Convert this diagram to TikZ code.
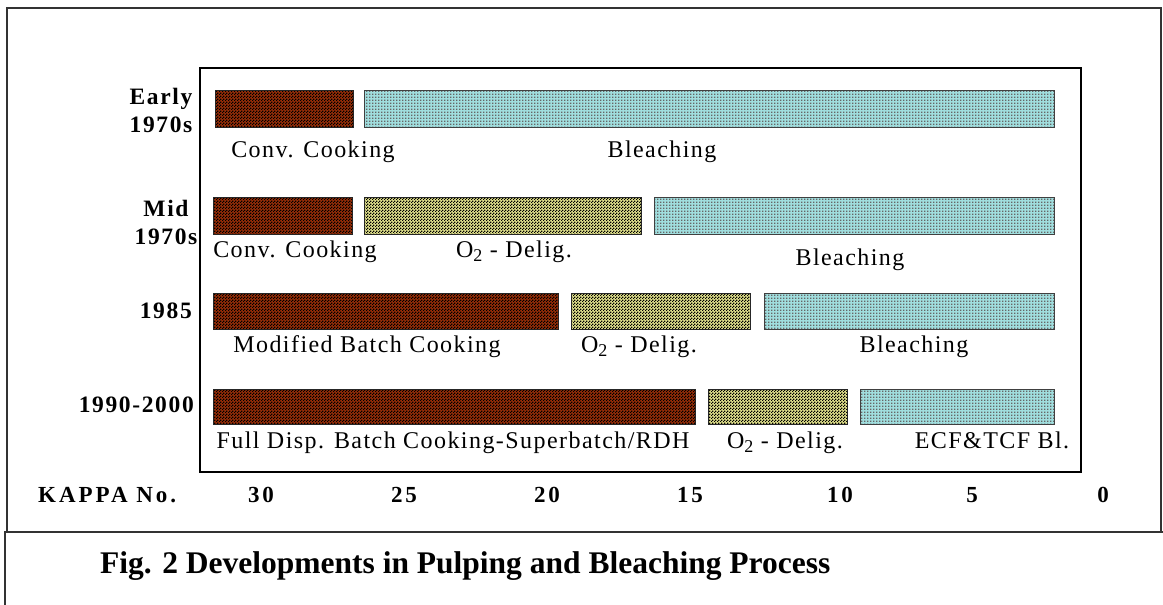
\documentclass[tikz,border=0pt]{standalone}
\usepackage{fontspec}
\setmainfont{Liberation Serif}
\newfontfamily\spacedfont{Liberation Serif}[LetterSpace=6]
\newfontfamily\wideboldfont{Liberation Serif}[LetterSpace=7]
\newfontfamily\kappafont{Liberation Serif}[LetterSpace=13]
\usetikzlibrary{patterns}

%% dither fills like the old office charts
\pgfdeclarepatternformonly{checker}{\pgfpointorigin}{\pgfqpoint{3pt}{3pt}}{\pgfqpoint{3pt}{3pt}}{%
  \pgfpathrectangle{\pgfpointorigin}{\pgfqpoint{1.5pt}{1.5pt}}%
  \pgfpathrectangle{\pgfqpoint{1.5pt}{1.5pt}}{\pgfqpoint{1.5pt}{1.5pt}}%
  \pgfusepath{fill}}
\pgfdeclarepatternformonly{sparsedots}{\pgfpointorigin}{\pgfqpoint{3pt}{3pt}}{\pgfqpoint{3pt}{3pt}}{%
  \pgfpathrectangle{\pgfpointorigin}{\pgfqpoint{1.8pt}{1.8pt}}%
  \pgfusepath{fill}}

\definecolor{cookbrown}{RGB}{150,45,8}
\definecolor{deligyellow}{RGB}{225,225,140}
\definecolor{bleachcyan}{RGB}{160,222,222}

\newcommand{\otwo}{O\raisebox{-4pt}{\fontsize{18}{18}\selectfont 2}}

\tikzset{
  cookbar/.style={draw=black!85, line width=1pt, preaction={fill=cookbrown}, pattern=checker, pattern color=black},
  deligbar/.style={draw=black!85, line width=1pt, preaction={fill=deligyellow}, pattern=checker, pattern color=black},
  bleachbar/.style={draw=black!75, line width=1pt, preaction={fill=bleachcyan}, pattern=sparsedots, pattern color=black!60},
  barlabel/.style={anchor=base, inner sep=0pt, font=\spacedfont\fontsize{24}{28}\selectfont},
  rowlabel/.style={inner sep=0pt, align=center, font=\wideboldfont\bfseries\fontsize{23.5}{28}\selectfont},
  kappalabel/.style={anchor=base, inner sep=0pt, font=\kappafont\bfseries\fontsize{23}{28}\selectfont}
}

\begin{document}
\begin{tikzpicture}[x=1pt,y=-1pt]
    \useasboundingbox (0,0) rectangle (1163,605);
    %% frames
    \draw[line width=1.5pt,black!80] (7,8) rectangle (1161,532);
    \draw[line width=1.5pt,black!80] (5,605) -- (5,532) -- (1163,532);
    \draw[line width=1.5pt] (200,68) rectangle (1081,472);
    %% Early 1970s
    \node[rowlabel] (early) at (161,110.5) {Early\\1970s};
    \draw[cookbar] (215,90) rectangle (353,127);
    \draw[bleachbar] (364,90) rectangle (1054,127);
    \node[barlabel] (cook1) at (313,157) {Conv. Cooking};
    \node[barlabel] (bleach1) at (662,157) {Bleaching};
    %% Mid 1970s
    \node[rowlabel] (mid) at (166,222) {Mid\\1970s};
    \draw[cookbar] (213,197) rectangle (352,234);
    \draw[deligbar] (364,197) rectangle (641,234);
    \draw[bleachbar] (654,197) rectangle (1054,234);
    \node[barlabel] (cook2) at (295,257) {Conv. Cooking};
    \node[barlabel] (delig2) at (514,257) {\otwo{} - Delig.};
    \node[barlabel] (bleach2) at (850,265) {Bleaching};
    %% 1985
    \node[rowlabel,anchor=base east] (mod) at (192,318) {1985};
    \draw[cookbar] (213,293) rectangle (558,329);
    \draw[deligbar] (571,293) rectangle (750,329);
    \draw[bleachbar] (764,293) rectangle (1054,329);
    \node[barlabel] (cook3) at (367,352) {Modified Batch Cooking};
    \node[barlabel] (delig3) at (639,352) {\otwo{} - Delig.};
    \node[barlabel] (bleach3) at (914,352) {Bleaching};
    %% 1990-2000
    \node[rowlabel,anchor=base east] (full) at (194,412) {1990-2000};
    \draw[cookbar] (213,389) rectangle (695,424);
    \draw[deligbar] (708,389) rectangle (847,424);
    \draw[bleachbar] (860,389) rectangle (1054,424);
    \node[barlabel] (cook4) at (453,448) {Full Disp. Batch Cooking-Superbatch/RDH};
    \node[barlabel] (delig4) at (785,448) {\otwo{} - Delig.};
    \node[barlabel] (bleach4) at (992,448) {ECF\&TCF Bl.};
    %% kappa axis
    \node[kappalabel,anchor=base west] (kappa) at (38,502) {KAPPA No.};
    \foreach \kx/\kv in {261/30,404/25,547/20,690/15,840/10,972/5,1103/0}
        \node[kappalabel] (k\kv) at (\kx,502) {\kv};
    %% caption
    \node[anchor=base west,inner sep=0pt,font=\bfseries\fontsize{31.5}{36}\selectfont] (caption) at (100,573)
        {Fig. 2 Developments in Pulping and Bleaching Process};
\end{tikzpicture}
\end{document}
